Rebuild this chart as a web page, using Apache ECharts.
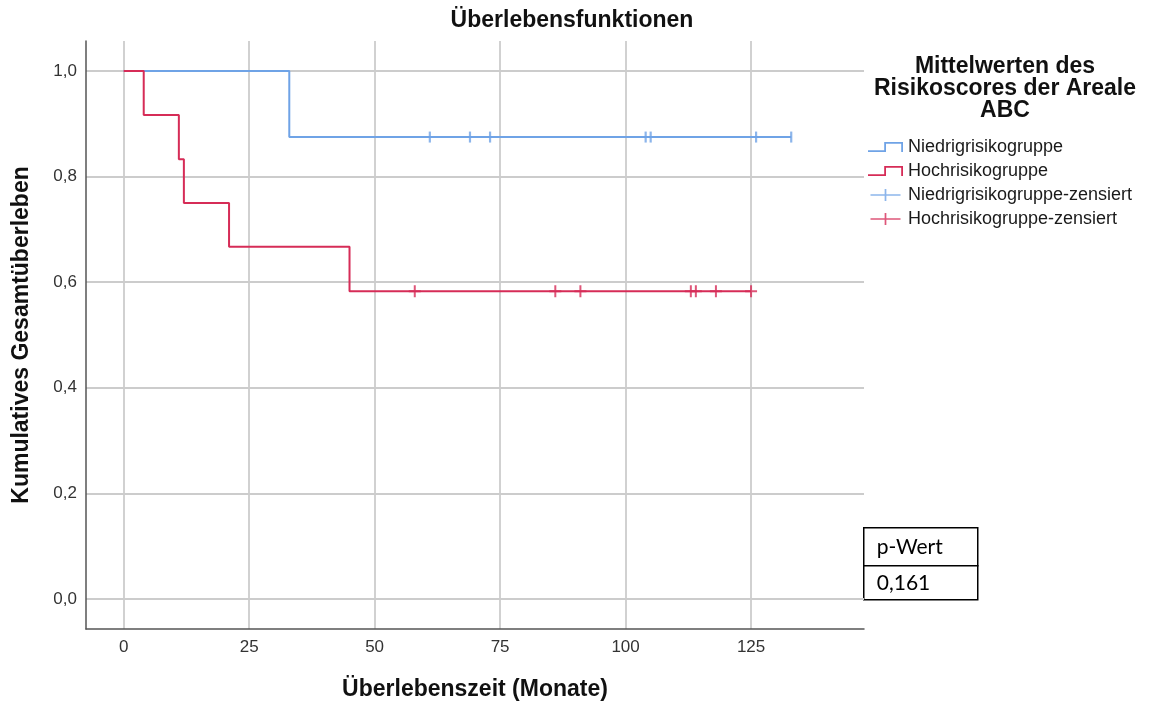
<!DOCTYPE html>
<html>
<head>
<meta charset="utf-8">
<title>Überlebensfunktionen</title>
<script src="https://cdn.jsdelivr.net/npm/echarts@6/dist/echarts.min.js"></script>
<style>
  html, body { margin: 0; padding: 0; background: #ffffff; }
  #chart { width: 1151px; height: 706px; }
</style>
</head>
<body>
<div id="chart"></div>
<script>
// Kaplan-Meier estimates: event times (months) and survival after each step
const lowTimes = [0, 33, 133];
const lowSurvival = [1.0, 0.875, 0.875];
const highTimes = [0, 4, 11, 12, 21, 45, 125];
const highSurvival = [1.0, 0.917, 0.833, 0.750, 0.667, 0.583, 0.583];

// censored observations (months)
const lowCensored = [61, 69, 73, 104, 105, 126, 133];
const highCensored = [58, 86, 91, 113, 114, 118, 125];

// axis ticks
const xTicks = [0, 25, 50, 75, 100, 125];
const yTicks = [0, 0.2, 0.4, 0.6, 0.8, 1.0];

const legendNames = [
  'Niedrigrisikogruppe',
  'Hochrisikogruppe',
  'Niedrigrisikogruppe-zensiert',
  'Hochrisikogruppe-zensiert'
];
const legendTitle = ['Mittelwerten des', 'Risikoscores der Areale', 'ABC'];
const pTable = ['p-Wert', '0,161'];

const BLUE = '#6fa3e6';
const RED = '#d62c57';
const LABEL_FONT = '"Liberation Sans Narrow", "Liberation Sans", Arial, sans-serif';
const FONT = '"Liberation Sans", Arial, sans-serif';

// survival value in effect at time t (step function lookup)
function survivalAt(times, surv, t) {
  let v = surv[0];
  for (let i = 0; i < times.length; i++) {
    if (times[i] <= t) v = surv[i];
  }
  return v;
}

const pairs = (xs, ys) => xs.map((x, i) => [x, ys[i]]);

const stepIcon = 'path://M0,8.2H16.2V0H35V10H33.2V1.8H18V10H0Z';
const crossIcon = 'path://M0,6.1H16.5V0H18.5V6.1H35V7.9H18.5V14H16.5V7.9H0Z';
const plusSymbol = 'path://M-1,-6H1V-1H6V1H1V6H-1V1H-6V-1H-1Z';

const chart = echarts.init(document.getElementById('chart'), null, { renderer: 'canvas' });

const option = {
  backgroundColor: '#ffffff',
  animation: false,
  grid: { left: 86, right: 287, top: 41, bottom: 76, containLabel: false },
  xAxis: {
    type: 'value',
    min: -7.5,
    max: 147.5,
    name: 'Überlebenszeit (Monate)',
    nameLocation: 'middle',
    nameGap: 49,
    nameTextStyle: { fontFamily: FONT, fontSize: 23, fontWeight: 'bold', color: '#111' },
    axisLine: { show: true, onZero: false, lineStyle: { color: '#555', width: 1.5 } },
    axisTick: { show: false, customValues: xTicks },
    axisLabel: {
      customValues: xTicks,
      margin: 10,
      fontFamily: LABEL_FONT,
      fontSize: 17,
      color: '#333'
    },
    splitLine: { show: true, lineStyle: { color: '#cccccc', width: 1.8 } }
  },
  yAxis: {
    type: 'value',
    min: -0.057,
    max: 1.057,
    name: 'Kumulatives Gesamtüberleben',
    nameLocation: 'middle',
    nameGap: 53,
    nameTextStyle: { fontFamily: FONT, fontSize: 23, fontWeight: 'bold', color: '#111' },
    axisLine: { show: true, onZero: false, lineStyle: { color: '#555', width: 1.5 } },
    axisTick: { show: false, customValues: yTicks },
    axisLabel: {
      customValues: yTicks,
      margin: 9,
      fontFamily: LABEL_FONT,
      fontSize: 17,
      color: '#333',
      formatter: v => v.toFixed(1).replace('.', ',')
    },
    splitLine: { show: true, lineStyle: { color: '#cccccc', width: 1.8 } }
  },
  legend: {
    orient: 'vertical',
    left: 868,
    top: 138,
    padding: 0,
    itemWidth: 35,
    itemHeight: 12,
    itemGap: 6,
    textStyle: { fontFamily: FONT, fontSize: 18, color: '#1a1a1a' },
    selectedMode: false,
    data: [
      { name: legendNames[0], icon: stepIcon, itemStyle: { color: BLUE, borderWidth: 0 } },
      { name: legendNames[1], icon: stepIcon, itemStyle: { color: RED, borderWidth: 0 } },
      { name: legendNames[2], icon: crossIcon, itemStyle: { color: BLUE, borderWidth: 0 } },
      { name: legendNames[3], icon: crossIcon, itemStyle: { color: RED, borderWidth: 0 } }
    ]
  },
  series: [
    {
      name: legendNames[0],
      type: 'line',
      step: 'end',
      data: pairs(lowTimes, lowSurvival),
      symbol: 'none',
      lineStyle: { color: BLUE, width: 2 },
      itemStyle: { color: BLUE },
      z: 3
    },
    {
      name: legendNames[1],
      type: 'line',
      step: 'end',
      data: pairs(highTimes, highSurvival),
      symbol: 'none',
      lineStyle: { color: RED, width: 2 },
      itemStyle: { color: RED },
      z: 4
    },
    {
      name: legendNames[2],
      type: 'scatter',
      data: lowCensored.map(t => [t, survivalAt(lowTimes, lowSurvival, t)]),
      symbol: 'rect',
      symbolSize: [2.2, 11],
      itemStyle: { color: BLUE },
      z: 5
    },
    {
      name: legendNames[3],
      type: 'scatter',
      data: highCensored.map(t => [t, survivalAt(highTimes, highSurvival, t)]),
      symbol: plusSymbol,
      symbolSize: [12, 12],
      itemStyle: { color: RED },
      z: 6
    }
  ],
  graphic: [
    {
      type: 'text',
      x: 572,
      y: 21,
      style: {
        text: 'Überlebensfunktionen',
        font: 'bold 23px ' + FONT,
        fill: '#111',
        align: 'center',
        verticalAlign: 'middle'
      }
    },
    {
      type: 'text',
      x: 1005,
      y: 89,
      style: {
        text: legendTitle.join('\n'),
        font: 'bold 23px ' + FONT,
        lineHeight: 22,
        fill: '#111',
        align: 'center',
        verticalAlign: 'middle'
      }
    },
    {
      type: 'group',
      left: 863,
      top: 527,
      children: [
        { type: 'rect', shape: { x: 0, y: 0, width: 114, height: 38 },
          style: { fill: '#ffffff', stroke: '#000', lineWidth: 1.5 } },
        { type: 'rect', shape: { x: 0, y: 38, width: 114, height: 34 },
          style: { fill: '#ffffff', stroke: '#000', lineWidth: 1.5 } },
        { type: 'text', x: 13, y: 19,
          style: { text: pTable[0], font: '21px Lato, "Open Sans", sans-serif', fill: '#000', verticalAlign: 'middle' } },
        { type: 'text', x: 13, y: 55,
          style: { text: pTable[1], font: '21px Lato, "Open Sans", sans-serif', fill: '#000', verticalAlign: 'middle' } }
      ]
    }
  ]
};

chart.setOption(option);
</script>
</body>
</html>
